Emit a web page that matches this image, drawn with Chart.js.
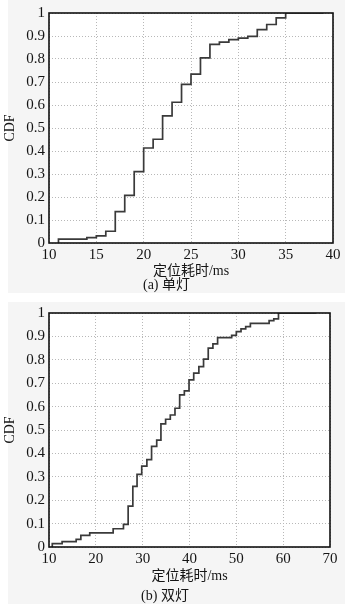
<!DOCTYPE html>
<html><head><meta charset="utf-8">
<script src="https://cdn.jsdelivr.net/npm/chart.js@4"></script>
<style>
html,body{margin:0;padding:0;background:#fff;width:345px;height:612px;overflow:hidden;position:relative}
.bg{position:absolute;background:#f5f5f5}
.box{position:absolute;left:0;width:345px}
canvas{display:block}
</style></head><body>
<div class="bg" style="left:8px;top:0;width:337px;height:293px"></div>
<div class="bg" style="left:8px;top:302px;width:337px;height:302px"></div>
<div class="box" style="top:0;height:300px"><canvas id="c1" width="345" height="300"></canvas></div>
<div class="box" style="top:300px;height:312px"><canvas id="c2" width="345" height="312"></canvas></div>
<script>
// ---- data ----
const yTicks = [0, 0.1, 0.2, 0.3, 0.4, 0.5, 0.6, 0.7, 0.8, 0.9, 1];
const yTickLabels = ['0', '0.1', '0.2', '0.3', '0.4', '0.5', '0.6', '0.7', '0.8', '0.9', '1'];
const yTitle = 'CDF';
const xTitle = '定位耗时/ms';

// (a) 单灯
const caption1 = '(a) 单灯';
const xTicks1 = [10, 15, 20, 25, 30, 35, 40];
const stepTimes1 = [11, 14, 15, 16, 17, 18, 19, 20, 21, 22, 23, 24, 25, 26, 27, 28, 29, 30, 31, 32, 33, 34, 35];
const stepCdf1   = [0.017, 0.023, 0.031, 0.051, 0.136, 0.207, 0.31, 0.413, 0.451, 0.553, 0.612, 0.69, 0.734, 0.805, 0.864, 0.873, 0.884, 0.891, 0.898, 0.928, 0.95, 0.979, 1.0];
const endTime1 = 39;

// (b) 双灯
const caption2 = '(b) 双灯';
const xTicks2 = [10, 20, 30, 40, 50, 60, 70];
const stepTimes2 = [10.7, 12.8, 15.8, 16.8, 18.7, 23.7, 25.9, 26.9, 27.9, 28.8, 29.8, 30.9, 31.9, 33, 33.9, 34.9, 35.9, 36.9, 37.9, 38.9, 39.9, 40.9, 42, 43, 44, 45, 46, 49, 50, 51, 52, 53, 57, 58, 59];
const stepCdf2   = [0.014, 0.023, 0.033, 0.05, 0.06, 0.078, 0.097, 0.175, 0.259, 0.31, 0.346, 0.373, 0.43, 0.457, 0.526, 0.546, 0.564, 0.593, 0.65, 0.667, 0.714, 0.743, 0.771, 0.803, 0.85, 0.868, 0.895, 0.904, 0.92, 0.932, 0.942, 0.956, 0.967, 0.975, 1.0];
const endTime2 = 67;

// ---- rendering ----
const SERIF = "'Liberation Serif','Times New Roman','Noto Sans CJK SC',serif";
const TXT = '#151515';

function cdfPoints(times, cdf, end) {
  const pts = [{x: times[0], y: 0}];
  times.forEach((t, i) => pts.push({x: t, y: cdf[i]}));
  pts.push({x: end, y: cdf[cdf.length - 1]});
  return pts;
}

const boxPlugin = {
  id: 'box',
  beforeDraw(chart) {
    const a = chart.chartArea, c = chart.ctx;
    c.save(); c.fillStyle = '#ffffff';
    c.fillRect(a.left, a.top, a.right - a.left, a.bottom - a.top);
    c.restore();
  },
  afterDraw(chart) {
    const a = chart.chartArea, c = chart.ctx;
    c.save(); c.strokeStyle = '#111'; c.lineWidth = 1.6;
    c.strokeRect(a.left, a.top, a.right - a.left, a.bottom - a.top);
    c.restore();
  }
};

function makeChart(id, o) {
  const font = {family: SERIF, size: 14, lineHeight: 1, weight: 'normal'};
  const tickFont = {family: SERIF, size: 15, weight: 'normal'};
  return new Chart(document.getElementById(id), {
    type: 'line',
    data: {datasets: [{
      data: cdfPoints(o.times, o.cdf, o.end),
      stepped: true,
      borderColor: '#3a3a3a',
      borderWidth: 1.7,
      pointRadius: 0,
      fill: false
    }]},
    options: {
      responsive: false,
      animation: false,
      events: [],
      layout: {padding: {top: o.padTop, right: o.padRight, left: 0, bottom: 0}},
      plugins: {
        legend: {display: false},
        tooltip: {enabled: false},
        title: {display: true, position: 'bottom', text: o.caption, color: TXT, font: font,
                padding: {top: 0, bottom: o.capPad}}
      },
      scales: {
        x: {
          type: 'linear', min: o.xTicks[0], max: o.xTicks[o.xTicks.length - 1],
          afterBuildTicks: s => { s.ticks = o.xTicks.map(v => ({value: v})); },
          afterFit: s => { s.height = o.xHeight; },
          ticks: {font: tickFont, color: TXT, padding: 3, maxRotation: 0, autoSkip: false,
                  callback: v => String(v)},
          grid: {color: '#b8b8b8', lineWidth: 1, drawTicks: false},
          border: {display: false, dash: [1, 2]},
          title: {display: true, text: xTitle, color: TXT, font: font, padding: {top: 0, bottom: o.xTitlePad}}
        },
        y: {
          type: 'linear', min: 0, max: 1,
          afterBuildTicks: s => { s.ticks = yTicks.map(v => ({value: v})); },
          afterFit: s => { s.width = 49; },
          ticks: {font: tickFont, color: TXT, padding: 4, autoSkip: false,
                  callback: (v, i) => yTickLabels[i]},
          grid: {color: '#b8b8b8', lineWidth: 1, drawTicks: false},
          border: {display: false, dash: [1, 2]},
          title: {display: true, text: yTitle, color: TXT, font: font, padding: {top: 3, bottom: 0}}
        }
      }
    },
    plugins: [boxPlugin]
  });
}

makeChart('c1', {times: stepTimes1, cdf: stepCdf1, end: endTime1, xTicks: xTicks1, caption: caption1,
  padTop: 7, padRight: 12, xHeight: 35.7, xTitlePad: 0, capPad: 7.3});
makeChart('c2', {times: stepTimes2, cdf: stepCdf2, end: endTime2, xTicks: xTicks2, caption: caption2,
  padTop: 13, padRight: 15, xHeight: 42.7, xTitlePad: 6.7, capPad: 8.3});
</script>
</body></html>
